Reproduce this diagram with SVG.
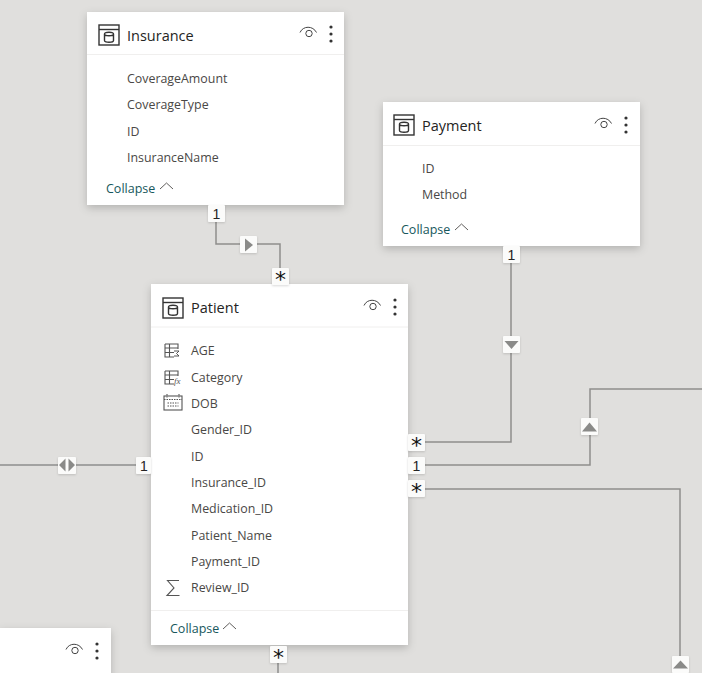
<svg xmlns="http://www.w3.org/2000/svg" width="702" height="673" viewBox="0 0 702 673">
<style>
text{font-family:"Open Sans","Noto Sans","Liberation Sans",sans-serif}
.t{font-size:14.5px;fill:#252423}
.f{font-size:12.4px;fill:#4a4846}
.c{font-size:12.5px;fill:#17575c}
.card{fill:#fff;filter:url(#sh)}
.div{stroke:#f0efee;stroke-width:1;fill:none}
.ln{stroke:#8e8e8c;stroke-width:1.5;fill:none}
.b{fill:#fbfbfa;filter:url(#bs)}
.tri{fill:#8a8a88}
.n{font-size:14px;fill:#252423;text-anchor:middle;font-family:"Liberation Sans",sans-serif}
.s{font-size:22px;fill:#111;text-anchor:middle;font-family:"DejaVu Sans",sans-serif}
.ic{fill:none;stroke:#333;stroke-width:1.4}
.ig{fill:none;stroke:#555;stroke-width:1.1}
</style>
<defs>
<filter id="sh" x="-15%" y="-15%" width="130%" height="130%"><feDropShadow dx="0" dy="3" stdDeviation="4" flood-color="#000" flood-opacity=".2"/></filter>
<filter id="bs" x="-30%" y="-30%" width="160%" height="160%"><feDropShadow dx="0" dy="1" stdDeviation="1" flood-color="#000" flood-opacity=".15"/></filter>
<g id="tbl"><rect class="ic" x="1" y="1" width="20" height="20"/><path class="ic" d="M1 5.500H21"/><path class="ic" stroke-width="1.100" d="M6.500 10c0-2.400 9-2.400 9 0v6.500c0 2.400-9 2.400-9 0zM6.500 10c0 2.400 9 2.400 9 0"/></g>
<g id="menu"><path d="M0 6.500C3-.5 13-.5 16.500 6.500" fill="none" stroke="#444" stroke-width="1"/><circle cx="9" cy="7.500" r="3.200" fill="none" stroke="#444" stroke-width="1"/><circle cx="31" cy="1" r="1.600" fill="#333"/><circle cx="31" cy="8" r="1.600" fill="#333"/><circle cx="31" cy="15" r="1.600" fill="#333"/></g>
<path id="chev" d="M0 7L6.500 1L13 7" fill="none" stroke="#605e5c" stroke-width="1"/>
</defs>
<rect width="702" height="673" fill="#e0dfdd"/>
<g id="connectors">
<path class="ln" d="M216 215V244H280V272"/>
<path class="ln" d="M511 250V442H424"/>
<path class="ln" d="M424 465H590V389H702"/>
<path class="ln" d="M424 489H680V673"/>
<path class="ln" d="M0 465H136"/>
<path class="ln" d="M278 660V673"/>
</g>
<g id="insurance">
<rect class="card" x="87" y="12" width="257" height="193"/>
<path class="div" d="M87 54.500H344"/>
<use href="#tbl" x="98" y="24"/>
<text class="t" x="127" y="40.500">Insurance</text>
<use href="#menu" x="300" y="26"/>
<text class="f" x="127" y="83">CoverageAmount</text>
<text class="f" x="127" y="109">CoverageType</text>
<text class="f" x="127" y="136">ID</text>
<text class="f" x="127" y="162">InsuranceName</text>
<text class="c" x="106" y="193">Collapse</text>
<use href="#chev" x="160" y="182"/>
</g>
<g id="payment">
<rect class="card" x="383" y="102" width="257" height="144"/>
<path class="div" d="M383 145.500H640"/>
<use href="#tbl" x="393" y="114"/>
<text class="t" x="422" y="130.500">Payment</text>
<use href="#menu" x="595" y="117"/>
<text class="f" x="422" y="173">ID</text>
<text class="f" x="422" y="199">Method</text>
<text class="c" x="401" y="234">Collapse</text>
<use href="#chev" x="455" y="223"/>
</g>
<g id="patient">
<rect class="card" x="151" y="284" width="257" height="361"/>
<path class="div" d="M151 327H408M151 610.500H408"/>
<use href="#tbl" x="162" y="297"/>
<text class="t" x="191" y="313">Patient</text>
<use href="#menu" x="364" y="299"/>
<g class="ig">
<path d="M165 344H178V349M165 344V357H174M165 348H178M169.500 344V357M165 352.500H174"/>
<path d="M165 371H178V376M165 371V384H174M165 375H178M169.500 371V384M165 379.500H174"/>
<rect x="164" y="396" width="18" height="14"/><path d="M164 399.500H182M167 394V397.500M179 394V397.500M167.500 403h11M167.500 406h11" stroke-dasharray="1.500 1"/>
<path d="M179 580.500H167.500L174 588L167 595.500H179.500"/>
</g>
<path d="M174 351h5l-2.500 2.500 2.500 2.500h-5" fill="none" stroke="#444" stroke-width=".9"/>
<text x="174" y="384" font-size="9" font-style="italic" fill="#555" style="font-family:'Liberation Serif',serif">fx</text>
<text class="f" x="191" y="355">AGE</text>
<text class="f" x="191" y="382">Category</text>
<text class="f" x="191" y="408">DOB</text>
<text class="f" x="191" y="434">Gender_ID</text>
<text class="f" x="191" y="461">ID</text>
<text class="f" x="191" y="487">Insurance_ID</text>
<text class="f" x="191" y="513">Medication_ID</text>
<text class="f" x="191" y="540">Patient_Name</text>
<text class="f" x="191" y="566">Payment_ID</text>
<text class="f" x="191" y="592">Review_ID</text>
<text class="c" x="170" y="633">Collapse</text>
<use href="#chev" x="223" y="622"/>
</g>
<g id="partial-table">
<rect class="card" x="0" y="628" width="111" height="60"/>
<use href="#menu" x="66" y="643"/>
</g>
<g id="badges">
<rect class="b" x="208" y="205" width="17" height="17" rx="1"/><text class="n" x="216.500" y="219">1</text>
<rect class="b" x="240" y="236" width="17" height="17" rx="1"/><path class="tri" d="M245 238.500L253 245L245 251.500z"/>
<rect class="b" x="272" y="268" width="17" height="17" rx="1"/><text class="s" x="280.500" y="287">*</text>
<rect class="b" x="503" y="246" width="17" height="17" rx="1"/><text class="n" x="511.500" y="260">1</text>
<rect class="b" x="503" y="336" width="17" height="17" rx="1"/><path class="tri" d="M504.500 341H518.500L511.500 349z"/>
<rect class="b" x="581" y="418" width="17" height="17" rx="1"/><path class="tri" d="M582 431.500L589.500 422.500L597 431.500z"/>
<rect class="b" x="408" y="434" width="17" height="17" rx="1"/><text class="s" x="416.500" y="452.500">*</text>
<rect class="b" x="408" y="457" width="17" height="17" rx="1"/><text class="n" x="416.500" y="471">1</text>
<rect class="b" x="408" y="480" width="17" height="17" rx="1"/><text class="s" x="416.500" y="498.500">*</text>
<rect class="b" x="58" y="457" width="18" height="17" rx="1"/><path class="tri" d="M65.500 458.500V471.500L59 465zM68.500 458.500V471.500L75 465z"/>
<rect class="b" x="136" y="457" width="15" height="17" rx="1"/><text class="n" x="144" y="471">1</text>
<rect class="b" x="270" y="646" width="17" height="17" rx="1"/><text class="s" x="278.500" y="665">*</text>
<rect class="b" x="672" y="656" width="17" height="17" rx="1"/><path class="tri" d="M673 668.500L680.500 660.500L688 668.500z"/>
</g>
</svg>
